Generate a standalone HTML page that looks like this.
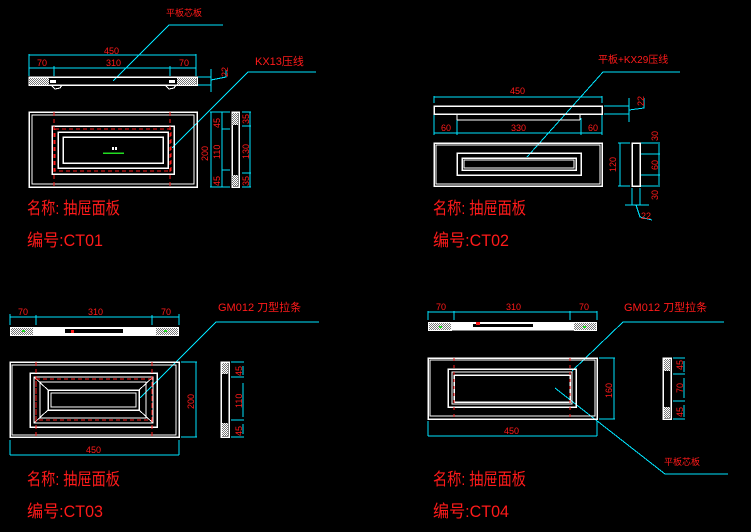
<!DOCTYPE html>
<html><head><meta charset="utf-8">
<style>
html,body{margin:0;padding:0;background:#000;}
svg{display:block;}
text{font-family:"Liberation Sans","Noto Sans CJK SC",sans-serif;fill:#ff1a1a;}
.d{font-size:9px;}
.t{font-size:17px;}
</style></head>
<body>
<svg width="751" height="532" viewBox="0 0 751 532" xmlns="http://www.w3.org/2000/svg" shape-rendering="crispEdges">
<defs>
<pattern id="h" width="2" height="2" patternUnits="userSpaceOnUse">
<rect width="2" height="2" fill="#fff"/><rect width="1" height="1" fill="#777"/><rect x="1" y="1" width="1" height="1" fill="#777"/>
</pattern>
</defs>
<rect width="751" height="532" fill="#000"/>

<!-- ================= CT01 ================= -->
<g fill="none" stroke="#00e5ff" stroke-width="1">
<polyline points="113,81 169,25 223,25"/>
<polyline points="172,148 248,72 316,72"/>
<line x1="29" y1="55" x2="196" y2="55"/>
<line x1="29" y1="68" x2="196" y2="68"/>
<line x1="29" y1="54" x2="29" y2="76"/><line x1="196" y1="54" x2="196" y2="76"/>
<line x1="54" y1="66" x2="54" y2="76"/><line x1="170" y1="66" x2="170" y2="76"/>
<line x1="198" y1="77" x2="211" y2="77"/><line x1="198" y1="85" x2="211" y2="85"/>
<line x1="211" y1="69" x2="211" y2="92"/><polyline points="211,80 226,77 226,70"/>
<line x1="210" y1="112" x2="230" y2="112"/><line x1="210" y1="187" x2="230" y2="187"/>
<line x1="211" y1="112" x2="211" y2="187"/>
<line x1="222" y1="112" x2="222" y2="187"/>
<line x1="222" y1="129" x2="230" y2="129"/><line x1="222" y1="170" x2="230" y2="170"/>
<line x1="242" y1="112" x2="251" y2="112"/><line x1="242" y1="187" x2="251" y2="187"/>
<line x1="242" y1="126" x2="251" y2="126"/><line x1="242" y1="173" x2="251" y2="173"/>
<line x1="250" y1="112" x2="250" y2="187"/>
</g>
<rect x="29" y="77" width="168" height="8" fill="none" stroke="#fff" stroke-width="1.5"/>
<rect x="29" y="78" width="20" height="7" fill="url(#h)"/><rect x="177" y="78" width="19" height="7" fill="url(#h)"/>
<rect x="50" y="80" width="6" height="3" fill="#fff"/><rect x="169" y="80" width="6" height="3" fill="#fff"/>
<path d="M52,86 l3,3 l5,-1 l2,-3 M166,86 l3,3 l5,-1 l2,-3" stroke="#fff" fill="none"/>
<g fill="none" stroke="#fff" stroke-width="1.5">
<rect x="29" y="112" width="168" height="75"/><rect x="32" y="115" width="162" height="69" stroke-width="1"/>
<rect x="52" y="126" width="122" height="48"/>
<rect x="58" y="132" width="110" height="36"/>
<rect x="63" y="137" width="100" height="26"/>
<rect x="232" y="112" width="7" height="75"/>
</g>
<rect x="232" y="113" width="6" height="12" fill="url(#h)"/><rect x="232" y="175" width="6" height="11" fill="url(#h)"/>
<g fill="none" stroke="#ff1a1a" stroke-width="1" stroke-dasharray="4,3">
<line x1="54" y1="112" x2="54" y2="187"/><line x1="170" y1="112" x2="170" y2="187"/>
<rect x="55" y="129" width="116" height="42"/>
</g>
<line x1="103" y1="153" x2="124" y2="153" stroke="#22dd22" stroke-width="1.5"/>
<rect x="112" y="147" width="2" height="3" fill="#fff"/><rect x="115" y="147" width="2" height="3" fill="#fff"/>
<text x="166" y="16" class="d">平板芯板</text>
<text x="255" y="65" style="font-size:11px">KX13压线</text>
<text x="104" y="54" class="d">450</text>
<text x="37" y="66" class="d">70</text><text x="106" y="66" class="d">310</text><text x="179" y="66" class="d">70</text>
<text class="d" transform="translate(228,77) rotate(-90)">22</text>
<text class="d" transform="translate(208,161) rotate(-90)">200</text>
<text class="d" transform="translate(220,128) rotate(-90)">45</text>
<text class="d" transform="translate(220,159) rotate(-90)">110</text>
<text class="d" transform="translate(220,186) rotate(-90)">45</text>
<text class="d" transform="translate(249,124) rotate(-90)">35</text>
<text class="d" transform="translate(249,159) rotate(-90)">130</text>
<text class="d" transform="translate(249,186) rotate(-90)">35</text>
<text x="27" y="214" class="t" textLength="93" lengthAdjust="spacingAndGlyphs">名称: 抽屉面板</text>
<text x="27" y="246" class="t" textLength="76" lengthAdjust="spacingAndGlyphs">编号:CT01</text>

<!-- ================= CT02 ================= -->
<g fill="none" stroke="#00e5ff" stroke-width="1">
<polyline points="527,157 603,72 680,72"/>
<line x1="434" y1="97" x2="602" y2="97"/>
<line x1="434" y1="96" x2="434" y2="103"/><line x1="602" y1="96" x2="602" y2="103"/>
<line x1="434" y1="115" x2="434" y2="135"/><line x1="602" y1="115" x2="602" y2="135"/>
<line x1="457" y1="118" x2="457" y2="135"/><line x1="581" y1="118" x2="581" y2="135"/>
<line x1="434" y1="133" x2="602" y2="133"/>
<line x1="604" y1="106" x2="629" y2="106"/><line x1="604" y1="114" x2="629" y2="114"/>
<line x1="629" y1="98" x2="629" y2="122"/><polyline points="629,110 644,108 644,98"/>
<line x1="618" y1="143" x2="630" y2="143"/><line x1="618" y1="186" x2="630" y2="186"/>
<line x1="620" y1="143" x2="620" y2="186"/>
<line x1="641" y1="143" x2="660" y2="143"/><line x1="641" y1="186" x2="660" y2="186"/>
<line x1="641" y1="154" x2="660" y2="154"/><line x1="641" y1="175" x2="660" y2="175"/>
<line x1="659" y1="144" x2="659" y2="185"/>
<line x1="632" y1="188" x2="632" y2="205"/><line x1="640" y1="188" x2="640" y2="205"/>
<line x1="625" y1="205" x2="649" y2="205"/>
<polyline points="636,205 640,217 652,220"/>
</g>
<rect x="434" y="106" width="168" height="8" fill="none" stroke="#fff" stroke-width="1.5"/>
<line x1="457" y1="120" x2="580" y2="120" stroke="#fff"/>
<line x1="457" y1="114" x2="457" y2="120" stroke="#fff"/><line x1="580" y1="114" x2="580" y2="120" stroke="#fff"/>
<g fill="none" stroke="#fff" stroke-width="1.5">
<rect x="434" y="143" width="168" height="43"/><rect x="436" y="145" width="164" height="39" stroke-width="1"/>
<rect x="457" y="153" width="124" height="22"/>
<rect x="462" y="158" width="114" height="12"/>
<rect x="464" y="160" width="110" height="8" stroke-width="1"/>
<rect x="632" y="143" width="8" height="43"/>
</g>
<text x="598" y="63" style="font-size:10px">平板+KX29压线</text>
<text x="510" y="94" class="d">450</text>
<text x="441" y="131" class="d">60</text><text x="511" y="131" class="d">330</text><text x="588" y="131" class="d">60</text>
<text class="d" transform="translate(644,106) rotate(-90)">22</text>
<text class="d" transform="translate(616,172) rotate(-90)">120</text>
<text class="d" transform="translate(658,141) rotate(-90)">30</text>
<text class="d" transform="translate(658,170) rotate(-90)">60</text>
<text class="d" transform="translate(658,200) rotate(-90)">30</text>
<text x="641" y="219" class="d">22</text>
<text x="433" y="214" class="t" textLength="93" lengthAdjust="spacingAndGlyphs">名称: 抽屉面板</text>
<text x="433" y="246" class="t" textLength="76" lengthAdjust="spacingAndGlyphs">编号:CT02</text>

<!-- ================= CT03 ================= -->
<g fill="none" stroke="#00e5ff" stroke-width="1">
<polyline points="140,398 216,322 319,322"/>
<line x1="10" y1="317" x2="179" y2="317"/>
<line x1="10" y1="314" x2="10" y2="325"/><line x1="179" y1="314" x2="179" y2="325"/>
<line x1="36" y1="315" x2="36" y2="325"/><line x1="152" y1="315" x2="152" y2="325"/>
<line x1="181" y1="362" x2="197" y2="362"/><line x1="181" y1="437" x2="197" y2="437"/>
<line x1="196" y1="362" x2="196" y2="437"/>
<line x1="10" y1="440" x2="10" y2="455"/><line x1="179" y1="440" x2="179" y2="455"/>
<line x1="10" y1="455" x2="179" y2="455"/>
<line x1="231" y1="362" x2="244" y2="362"/><line x1="231" y1="437" x2="244" y2="437"/>
<line x1="231" y1="377" x2="244" y2="377"/><line x1="231" y1="420" x2="244" y2="420"/>
<line x1="243" y1="366" x2="243" y2="375"/><line x1="243" y1="383" x2="243" y2="417"/><line x1="243" y1="424" x2="243" y2="434"/>
</g>
<rect x="10" y="327" width="169" height="9" fill="#fff"/>
<rect x="11" y="328" width="22" height="7" fill="url(#h)"/><rect x="156" y="328" width="22" height="7" fill="url(#h)"/>
<rect x="65" y="329" width="58" height="4" fill="#000"/><rect x="71" y="330" width="3" height="3" fill="#ff1a1a"/>
<rect x="22" y="330" width="3" height="2" fill="#22dd22"/><rect x="164" y="330" width="3" height="2" fill="#22dd22"/>
<g fill="none" stroke="#fff" stroke-width="1.5">
<rect x="10" y="362" width="169" height="75"/><rect x="12" y="365" width="164" height="70" stroke-width="1"/>
<rect x="30" y="373" width="127" height="54"/>
<rect x="34" y="377" width="119" height="46" stroke-width="1"/>
<rect x="40" y="382" width="106" height="36" stroke-width="1"/>
<rect x="48" y="390" width="91" height="20"/>
<rect x="51" y="393" width="85" height="14" stroke-width="1"/>
<path d="M34,377 L48,390 M153,377 L139,390 M34,423 L48,410 M153,423 L139,410" stroke-width="1"/>
<rect x="221" y="362" width="8" height="75"/>
</g>
<rect x="222" y="363" width="6" height="11" fill="url(#h)"/><rect x="222" y="423" width="6" height="13" fill="url(#h)"/>
<g fill="none" stroke="#ff1a1a" stroke-width="1" stroke-dasharray="4,3">
<line x1="36" y1="362" x2="36" y2="437"/><line x1="152" y1="362" x2="152" y2="437"/>
<rect x="36" y="379" width="116" height="41"/>
</g>
<text x="218" y="311" style="font-size:11px">GM012 刀型拉条</text>
<text x="18" y="315" class="d">70</text><text x="88" y="315" class="d">310</text><text x="161" y="315" class="d">70</text>
<text class="d" transform="translate(194,409) rotate(-90)">200</text>
<text x="86" y="453" class="d">450</text>
<text class="d" transform="translate(242,376) rotate(-90)">45</text>
<text class="d" transform="translate(242,408) rotate(-90)">110</text>
<text class="d" transform="translate(242,436) rotate(-90)">45</text>
<text x="27" y="485" class="t" textLength="93" lengthAdjust="spacingAndGlyphs">名称: 抽屉面板</text>
<text x="27" y="517" class="t" textLength="76" lengthAdjust="spacingAndGlyphs">编号:CT03</text>

<!-- ================= CT04 ================= -->
<g fill="none" stroke="#00e5ff" stroke-width="1">
<polyline points="572,371 623,322 724,322"/>
<polyline points="555,388 665,474 728,474"/>
<line x1="428" y1="312" x2="597" y2="312"/>
<line x1="428" y1="311" x2="428" y2="320"/><line x1="597" y1="311" x2="597" y2="320"/>
<line x1="454" y1="311" x2="454" y2="320"/><line x1="570" y1="311" x2="570" y2="320"/>
<line x1="599" y1="358" x2="615" y2="358"/><line x1="599" y1="419" x2="615" y2="419"/>
<line x1="614" y1="358" x2="614" y2="419"/>
<line x1="428" y1="421" x2="428" y2="436"/><line x1="597" y1="421" x2="597" y2="436"/>
<line x1="428" y1="436" x2="597" y2="436"/>
<line x1="673" y1="358" x2="685" y2="358"/><line x1="673" y1="419" x2="685" y2="419"/>
<line x1="673" y1="374" x2="685" y2="374"/><line x1="673" y1="401" x2="685" y2="401"/>
<line x1="684" y1="361" x2="684" y2="372"/><line x1="684" y1="378" x2="684" y2="398"/><line x1="684" y1="405" x2="684" y2="417"/>
</g>
<rect x="428" y="322" width="169" height="9" fill="#fff"/>
<rect x="429" y="323" width="22" height="7" fill="url(#h)"/><rect x="574" y="323" width="22" height="7" fill="url(#h)"/>
<rect x="473" y="324" width="60" height="3" fill="#000"/><rect x="476" y="322" width="4" height="3" fill="#ff1a1a"/>
<line x1="452" y1="331" x2="574" y2="331" stroke="#000"/>
<rect x="439" y="326" width="3" height="2" fill="#22dd22"/><rect x="583" y="326" width="3" height="2" fill="#22dd22"/>
<g fill="none" stroke="#fff" stroke-width="1.5">
<rect x="428" y="358" width="169" height="61"/><rect x="430" y="360" width="165" height="56" stroke-width="1"/>
<rect x="448" y="369" width="128" height="38"/>
<rect x="452" y="372" width="120" height="32" stroke-width="1"/>
<rect x="454" y="375" width="116" height="27"/>
<rect x="663" y="358" width="8" height="61"/>
</g>
<rect x="664" y="359" width="6" height="12" fill="url(#h)"/><rect x="664" y="407" width="6" height="11" fill="url(#h)"/>
<g stroke="#ff1a1a" stroke-width="1" stroke-dasharray="3,4">
<line x1="454" y1="358" x2="454" y2="419"/><line x1="570" y1="358" x2="570" y2="419"/>
</g>
<text x="624" y="311" style="font-size:11px">GM012 刀型拉条</text>
<text x="436" y="310" class="d">70</text><text x="506" y="310" class="d">310</text><text x="579" y="310" class="d">70</text>
<text class="d" transform="translate(612,398) rotate(-90)">160</text>
<text x="504" y="434" class="d">450</text>
<text class="d" transform="translate(683,370) rotate(-90)">45</text>
<text class="d" transform="translate(683,393) rotate(-90)">70</text>
<text class="d" transform="translate(683,417) rotate(-90)">45</text>
<text x="664" y="465" class="d">平板芯板</text>
<text x="433" y="485" class="t" textLength="93" lengthAdjust="spacingAndGlyphs">名称: 抽屉面板</text>
<text x="433" y="517" class="t" textLength="76" lengthAdjust="spacingAndGlyphs">编号:CT04</text>
</svg>
</body></html>
